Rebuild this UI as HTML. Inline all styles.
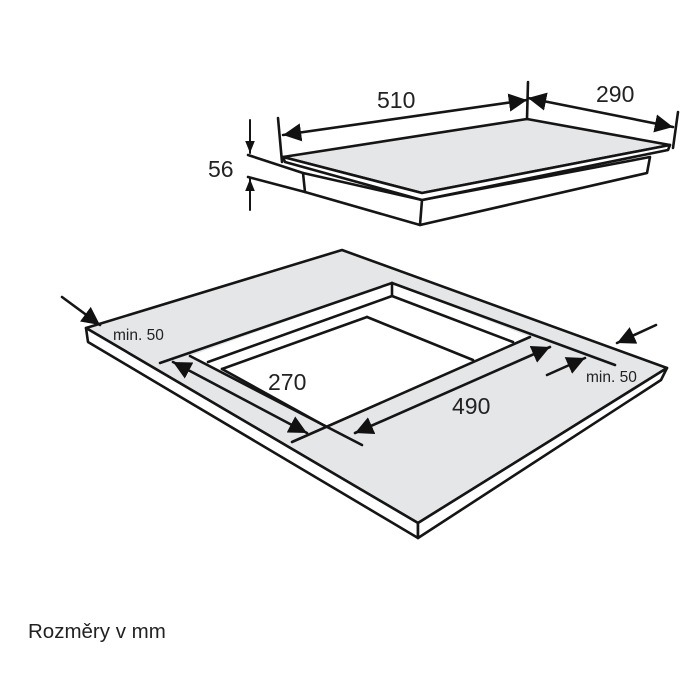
<!DOCTYPE html>
<html><head><meta charset="utf-8"><style>
html,body{margin:0;padding:0;background:#fff;width:700px;height:700px;overflow:hidden}
svg{display:block}
text{font-family:"Liberation Sans",sans-serif;fill:#222}
</style></head><body>
<svg width="700" height="700" viewBox="0 0 700 700" xmlns="http://www.w3.org/2000/svg">
<defs>
<marker id="a" viewBox="0 0 10 10" refX="10" refY="5" markerWidth="7" markerHeight="7" orient="auto-start-reverse" markerUnits="strokeWidth">
<path d="M0,0 L10,5 L0,10 z" fill="#111"/></marker>
<marker id="b" viewBox="0 0 10 10" refX="10" refY="5" markerWidth="6" markerHeight="6" orient="auto-start-reverse" markerUnits="strokeWidth">
<path d="M0,1 L10,5 L0,9 z" fill="#111"/></marker>
</defs>
<g stroke="#151515" stroke-width="2.6" fill="none" stroke-linejoin="round" stroke-linecap="round">
<polygon points="86,328 342,250 667,368 418,523" fill="#e4e6e8"/>
<polygon points="86,328 418,523 418,538 88,342" fill="#fff"/>
<polygon points="418,523 667,368 661,380 418,538" fill="#fff"/>
<polygon points="190,356 392,283 530,337 327,426" fill="#fff" stroke="none"/>
<line x1="160" y1="363" x2="392" y2="283"/>
<line x1="392" y1="283" x2="615" y2="365"/>
<line x1="392" y1="283" x2="392" y2="296"/>
<line x1="208" y1="362" x2="392" y2="296"/>
<line x1="392" y1="296" x2="513" y2="342"/>
<line x1="222" y1="369" x2="367" y2="317"/>
<line x1="367" y1="317" x2="473" y2="360"/>
<line x1="222" y1="369" x2="325" y2="426"/>
<line x1="190" y1="356" x2="362" y2="445"/>
<line x1="292" y1="442" x2="530" y2="337"/>
<line x1="173" y1="362" x2="307" y2="433" marker-start="url(#a)" marker-end="url(#a)"/>
<line x1="355" y1="433" x2="550" y2="347" marker-start="url(#a)" marker-end="url(#a)"/>
<line x1="62" y1="297" x2="100" y2="325" marker-end="url(#a)"/>
<line x1="656" y1="325" x2="617" y2="343" marker-end="url(#a)"/>
<line x1="547" y1="375" x2="585" y2="358" marker-end="url(#a)"/>
<polygon points="303,173 422,200 650,157 647,173 420,225 305,192" fill="#fff"/>
<polygon points="283,157 527,119 670,145 422,193" fill="#e4e6e8"/>
<polygon points="283,157 422,193 670,145 668,150 422,200 285,162" fill="#fff"/>
<line x1="422" y1="200" x2="420" y2="225"/>
<line x1="278" y1="118" x2="282" y2="162"/>
<line x1="528" y1="82" x2="527" y2="119"/>
<line x1="678" y1="112" x2="673" y2="148"/>
<line x1="283" y1="135" x2="527" y2="100" marker-start="url(#a)" marker-end="url(#a)"/>
<line x1="528" y1="98" x2="673" y2="127" marker-start="url(#a)" marker-end="url(#a)"/>
<line x1="248" y1="155" x2="303" y2="173"/>
<line x1="248" y1="177" x2="305" y2="192"/>
<line x1="250" y1="120" x2="250" y2="153" stroke-width="2" marker-end="url(#b)"/>
<line x1="250" y1="210" x2="250" y2="179" stroke-width="2" marker-end="url(#b)"/>
</g>
<text x="377" y="108" font-size="23">510</text>
<text x="596" y="102" font-size="23">290</text>
<text x="208" y="177" font-size="23">56</text>
<text x="268" y="390" font-size="23">270</text>
<text x="452" y="414" font-size="23">490</text>
<text x="113" y="340" font-size="15.5">min. 50</text>
<text x="586" y="382" font-size="15.5">min. 50</text>
<text x="28" y="638" font-size="20.5">Rozměry v mm</text>
</svg>
</body></html>
